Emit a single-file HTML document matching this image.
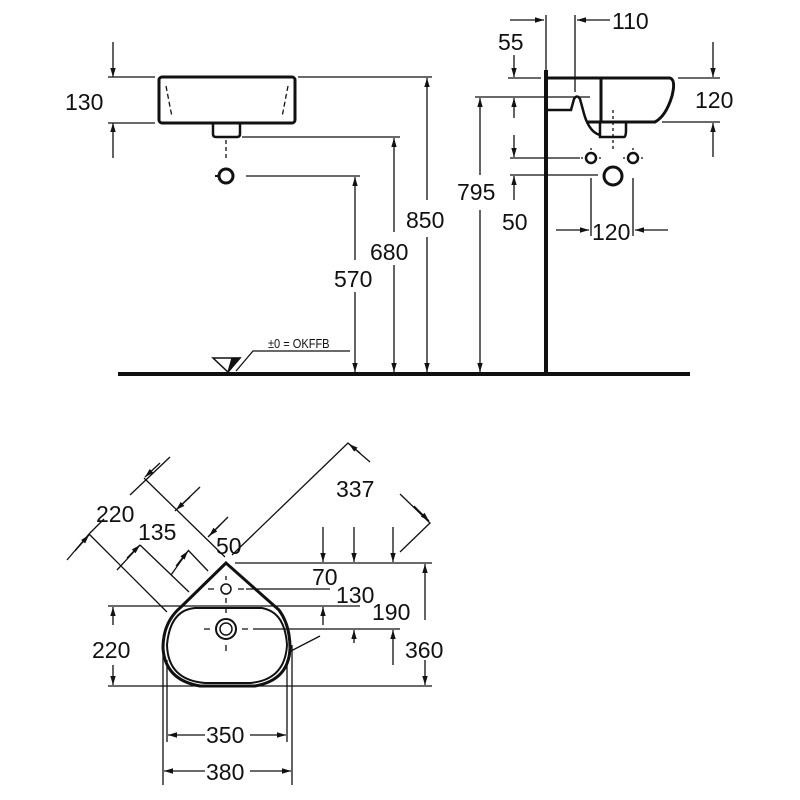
<!DOCTYPE html>
<html><head><style>html,body{margin:0;background:#fff}svg{display:block}text{font-family:"Liberation Sans",sans-serif;fill:#111}</style></head>
<body>
<svg width="800" height="800" viewBox="0 0 800 800" xmlns="http://www.w3.org/2000/svg">
<defs>
<marker id="a" viewBox="0 0 10 10" refX="10" refY="5" markerWidth="9" markerHeight="9" orient="auto-start-reverse" markerUnits="userSpaceOnUse"><path d="M0,2 L10,5 L0,8 z" fill="#111"/></marker>
</defs>
<g stroke="#111" fill="none" stroke-width="1.3">
<!-- TOP LEFT -->
<rect x="159" y="77" width="136" height="46" rx="3" stroke-width="3"/>
<path d="M166,86 L172,117 M288,86 L282,117" stroke-dasharray="5,3"/>
<path d="M213,123 v11 q0,3 3,3 h21 q3,0 3,-3 v-11" stroke-width="2.5"/>
<line x1="226" y1="140" x2="226" y2="160" stroke-dasharray="4,3"/>
<circle cx="226" cy="176" r="7" stroke-width="3"/>
<line x1="215" y1="176" x2="219" y2="176" stroke-width="2"/>
<line x1="108" y1="77" x2="155" y2="77"/><line x1="108" y1="123" x2="155" y2="123"/>
<line x1="113" y1="42" x2="113" y2="77" marker-end="url(#a)"/>
<line x1="113" y1="158" x2="113" y2="123" marker-end="url(#a)"/>
<line x1="298" y1="77" x2="432" y2="77"/>
<line x1="427" y1="200" x2="427" y2="78" marker-end="url(#a)"/>
<line x1="427" y1="237" x2="427" y2="372" marker-end="url(#a)"/>
<line x1="242" y1="137" x2="400" y2="137"/>
<line x1="394" y1="232" x2="394" y2="138" marker-end="url(#a)"/>
<line x1="394" y1="265" x2="394" y2="372" marker-end="url(#a)"/>
<line x1="246" y1="176" x2="360" y2="176"/>
<line x1="355" y1="260" x2="355" y2="177" marker-end="url(#a)"/>
<line x1="355" y1="292" x2="355" y2="372" marker-end="url(#a)"/>
<path d="M350,351 H253 L236,371"/>
<path d="M213,358 H240 L228,372 Z" stroke-width="1.5"/>
<path d="M228,372 L240,358 H232 Z" fill="#111"/>
<line x1="118" y1="374" x2="690" y2="374" stroke-width="4"/>
<!-- TOP RIGHT -->
<line x1="546" y1="70" x2="546" y2="374" stroke-width="4"/>
<line x1="546" y1="15" x2="546" y2="70"/>
<line x1="575" y1="15" x2="575" y2="92"/>
<line x1="510" y1="20" x2="544" y2="20" marker-end="url(#a)"/>
<line x1="610" y1="20" x2="577" y2="20" marker-end="url(#a)"/>
<line x1="514" y1="55" x2="514" y2="77" marker-end="url(#a)"/>
<line x1="508" y1="78" x2="541" y2="78"/>
<path d="M546,78 H670 Q676,80 672,96 Q666,116 655,122 H586" stroke-width="3"/>
<line x1="601" y1="78" x2="601" y2="122" stroke-width="3"/>
<path d="M546,110 H571 L574,99 Q577,94 580,99 L583,110 Q585,118 587,122 Q592,133 600,135 M600,122 V137 H624 Q626,137 626,130 V122" stroke-width="2.5"/>
<line x1="475" y1="97" x2="590" y2="97"/>
<line x1="480" y1="175" x2="480" y2="98" marker-end="url(#a)"/>
<line x1="480" y1="210" x2="480" y2="372" marker-end="url(#a)"/>
<line x1="514" y1="135" x2="514" y2="157" marker-end="url(#a)"/>
<line x1="514" y1="118" x2="514" y2="98" marker-end="url(#a)"/>
<line x1="514" y1="200" x2="514" y2="176" marker-end="url(#a)"/>
<line x1="510" y1="158" x2="580" y2="158"/><line x1="510" y1="175" x2="598" y2="175"/>
<circle cx="591" cy="158" r="5" stroke-width="2.5"/><circle cx="633" cy="158" r="5" stroke-width="2.5"/>
<path d="M583,158h-2M599,158h2M591,150v-2M625,158h-2M641,158h2M633,150v-2"/>
<circle cx="613" cy="176" r="9" stroke-width="3"/>
<line x1="613" y1="110" x2="613" y2="150" stroke-dasharray="3,3"/>
<line x1="591" y1="178" x2="591" y2="236"/><line x1="633" y1="178" x2="633" y2="236"/>
<line x1="556" y1="230" x2="589" y2="230" marker-end="url(#a)"/>
<line x1="668" y1="230" x2="635" y2="230" marker-end="url(#a)"/>
<line x1="678" y1="78" x2="720" y2="78"/><line x1="662" y1="122" x2="720" y2="122"/>
<line x1="713" y1="42" x2="713" y2="77" marker-end="url(#a)"/>
<line x1="713" y1="157" x2="713" y2="123" marker-end="url(#a)"/>
<!-- BOTTOM -->
<path d="M226,563 L181,607 Q163,622 163,648 Q165,680 200,686 H255 Q289,680 290,648 Q290,625 279,610 Z" stroke-width="3"/>
<path d="M195,608 H262 Q285,612 287,645 Q285,680 250,683 H205 Q168,680 167,645 Q170,610 195,608Z" stroke-width="2"/>
<circle cx="226" cy="629" r="10" stroke-width="2"/><circle cx="226" cy="629" r="6" stroke-width="1.5"/>
<path d="M210,629h-6M242,629h6M226,613v-4M226,645v6"/>
<circle cx="226" cy="589" r="5" stroke-width="1.5"/>
<path d="M214,589h-6M238,589h6M226,580v-4M226,598v5"/>
<line x1="235" y1="563" x2="432" y2="563"/>
<line x1="246" y1="589" x2="330" y2="589"/>
<line x1="108" y1="606" x2="360" y2="606"/>
<line x1="253" y1="629" x2="400" y2="629"/>
<line x1="108" y1="686" x2="432" y2="686"/>
<line x1="113" y1="625" x2="113" y2="607" marker-end="url(#a)"/>
<line x1="113" y1="665" x2="113" y2="685" marker-end="url(#a)"/>
<line x1="323" y1="527" x2="323" y2="562" marker-end="url(#a)"/>
<line x1="323" y1="625" x2="323" y2="607" marker-end="url(#a)"/>
<line x1="354" y1="527" x2="354" y2="562" marker-end="url(#a)"/>
<line x1="354" y1="643" x2="354" y2="630" marker-end="url(#a)"/>
<line x1="393" y1="527" x2="393" y2="562" marker-end="url(#a)"/>
<line x1="393" y1="665" x2="393" y2="630" marker-end="url(#a)"/>
<line x1="425" y1="620" x2="425" y2="564" marker-end="url(#a)"/>
<line x1="425" y1="660" x2="425" y2="685" marker-end="url(#a)"/>
<path d="M163,645 V785 M167,660 V742 M287,660 V742 M292,645 V785"/>
<line x1="205" y1="735" x2="168" y2="735" marker-end="url(#a)"/>
<line x1="250" y1="735" x2="286" y2="735" marker-end="url(#a)"/>
<line x1="205" y1="771" x2="164" y2="771" marker-end="url(#a)"/>
<line x1="250" y1="771" x2="291" y2="771" marker-end="url(#a)"/>
<line x1="289" y1="652" x2="320" y2="636"/>
<!-- diagonal dims -->
<path d="M232,555 L348,443 L370,462 M400,494 L430,523 L400,552"/>
<line x1="360" y1="453" x2="349" y2="444" marker-end="url(#a)"/>
<line x1="414" y1="506" x2="429" y2="521" marker-end="url(#a)"/>
<!-- extension lines 45deg -->
<path d="M144,478 L225,557 M89,534 L167,612 M140,545 L189,592 M188,550 L208,571"/>
<!-- 220 dim -->
<line x1="67" y1="560" x2="89" y2="534" />
<line x1="75" y1="551" x2="89" y2="535" marker-end="url(#a)"/>
<line x1="89" y1="534" x2="104" y2="519"/>
<line x1="130" y1="495" x2="170" y2="457"/>
<line x1="160" y1="463" x2="145" y2="477" marker-end="url(#a)"/>
<!-- 135 dim -->
<line x1="117" y1="570" x2="140" y2="545"/>
<line x1="127" y1="558" x2="140" y2="545" marker-end="url(#a)"/>
<line x1="175" y1="511" x2="200" y2="487"/>
<line x1="190" y1="497" x2="176" y2="510" marker-end="url(#a)"/>
<!-- 50 dim -->
<line x1="171" y1="575" x2="188" y2="551"/>
<line x1="176" y1="566" x2="188" y2="551" marker-end="url(#a)"/>
<line x1="208" y1="537" x2="228" y2="517"/>
<line x1="220" y1="525" x2="209" y2="536" marker-end="url(#a)"/>
</g>
<g font-size="23">
<text x="65" y="110">130</text>
<text x="406" y="228">850</text>
<text x="370" y="260">680</text>
<text x="334" y="287">570</text>
<text x="498" y="50">55</text>
<text x="612" y="29">110</text>
<text x="695" y="108">120</text>
<text x="457" y="200">795</text>
<text x="502" y="230">50</text>
<text x="592" y="240">120</text>
<text x="336" y="497">337</text>
<text x="96" y="522">220</text>
<text x="138" y="540">135</text>
<text x="216" y="554">50</text>
<text x="312" y="585">70</text>
<text x="336" y="603">130</text>
<text x="372" y="620">190</text>
<text x="405" y="658">360</text>
<text x="92" y="658">220</text>
<text x="206" y="743">350</text>
<text x="206" y="780">380</text>
</g>
<text x="268" y="348" font-size="13" transform="translate(268,348) scale(0.85,1) translate(-268,-348)">±0 = OKFFB</text>
</svg>
</body></html>
